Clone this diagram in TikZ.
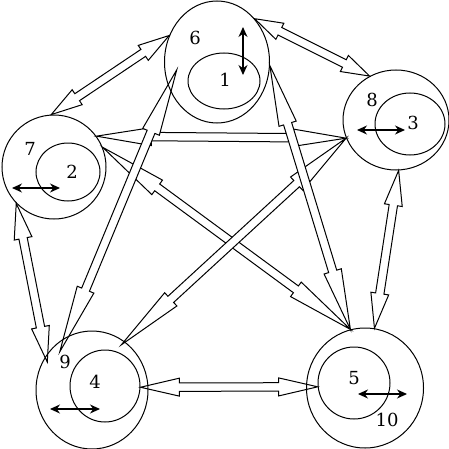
\documentclass[tikz,border=0pt]{standalone}
\usepackage{fontspec}
\setmainfont{DejaVu Serif}
\usetikzlibrary{calc,shapes.geometric,arrows.meta,backgrounds}

\newcommand\headw{4.5pt}
\newcommand\shaftw{2.1pt}
% hollow arrow with a head at both ends
\newcommand\fatarrow[2]{%
  \path[fat] let \p1=(#1), \p2=(#2),
    \n1={atan2(\y2-\y1,\x2-\x1)}, \n2={0.22*veclen(\x2-\x1,\y2-\y1)} in
    (\p1) -- ($(\p1)+(\n1:\n2)+(\n1+90:\headw)$)
    -- ($(\p1)+(\n1:\n2)+(\n1+90:\shaftw)$)
    -- ($(\p2)+(\n1+180:\n2)+(\n1+90:\shaftw)$)
    -- ($(\p2)+(\n1+180:\n2)+(\n1+90:\headw)$)
    -- (\p2)
    -- ($(\p2)+(\n1+180:\n2)+(\n1-90:\headw)$)
    -- ($(\p2)+(\n1+180:\n2)+(\n1-90:\shaftw)$)
    -- ($(\p1)+(\n1:\n2)+(\n1-90:\shaftw)$)
    -- ($(\p1)+(\n1:\n2)+(\n1-90:\headw)$)
    -- cycle;}

\begin{document}
\begin{tikzpicture}[x=0.5pt,y=-0.5pt,
    ring/.style={ellipse,draw,line width=0.5pt,inner sep=0pt},
    fat/.style={draw,fill=white,line width=0.5pt,line join=miter},
    twoway/.style={{Stealth[length=5pt,width=4.5pt]}-{Stealth[length=5pt,width=4.5pt]},line width=0.6pt},
    lbl/.style={font=\fontsize{9}{10}\selectfont,inner sep=0pt}]
\useasboundingbox (0,0) rectangle (449,449);

% outer circles
\node[ring,minimum width=52.5pt,minimum height=61pt] (o6) at (217,62) {};
\node[ring,minimum width=52pt,minimum height=52pt] (o7) at (54,167) {};
\node[ring,minimum width=53pt,minimum height=50pt] (o8) at (396,120) {};
\node[ring,minimum width=56pt,minimum height=59pt] (o9) at (92,390) {};
\node[ring,minimum width=58.5pt,minimum height=60pt] (o10) at (365,388) {};

% inner circles
\node[ring,minimum width=36pt,minimum height=28pt] (i1) at (224,81) {};
\node[ring,minimum width=32pt,minimum height=29pt] (i2) at (68,172) {};
\node[ring,minimum width=35pt,minimum height=31pt] (i3) at (410,124) {};
\node[ring,minimum width=35pt,minimum height=36pt] (i4) at (105,386) {};
\node[ring,minimum width=36pt,minimum height=36pt] (i5) at (354,383) {};

% labels
\node[lbl] (n6) at (195,38) {6};
\node[lbl] (n1) at (225,80) {1};
\node[lbl] (n8) at (372,100) {8};
\node[lbl] (n3) at (413,123) {3};
\node[lbl] (n7) at (30,149) {7};
\node[lbl] (n2) at (72,172) {2};
\node[lbl] (n9) at (65,362) {9};
\node[lbl] (n4) at (95,382) {4};
\node[lbl] (n5) at (354,378) {5};
\node[lbl] (n10) at (387,420) {10};

% small arrows
\draw[twoway] (243,27) -- (243,75);
\draw[twoway] (357,130) -- (405,130);
\draw[twoway] (12,188) -- (60,188);
\draw[twoway] (50,409) -- (100,409);
\draw[twoway] (358,394) -- (407,394);

% arrow ends
\coordinate (t9a) at ($(o9.center)!.92!(o9.148.5)$);
\coordinate (t9b) at ($(o9.center)!.92!(o9.57.5)$);
\coordinate (t9c) at ($(o9.center)!.86!(o9.130)$);
\coordinate (t6c) at ($(o6.center)!.77!(o6.191)$);

\begin{scope}[on background layer]
\fatarrow{o7.36.7}{o8.200.2}
\fatarrow{o7.22.7}{o10.104.5}
\fatarrow{o8.200.2}{t9b}
\fatarrow{o6.49.2}{o8.121.9}
\fatarrow{o6.151.1}{o7.93.4}
\fatarrow{o7.224.3}{t9a}
\fatarrow{i4.-2}{i5.186}
\fatarrow{o10.81.9}{o8.273.2}
\fatarrow{t9c}{t6c}
\fatarrow{o10.104.5}{o6.356.6}
\end{scope}
\end{tikzpicture}
\end{document}
